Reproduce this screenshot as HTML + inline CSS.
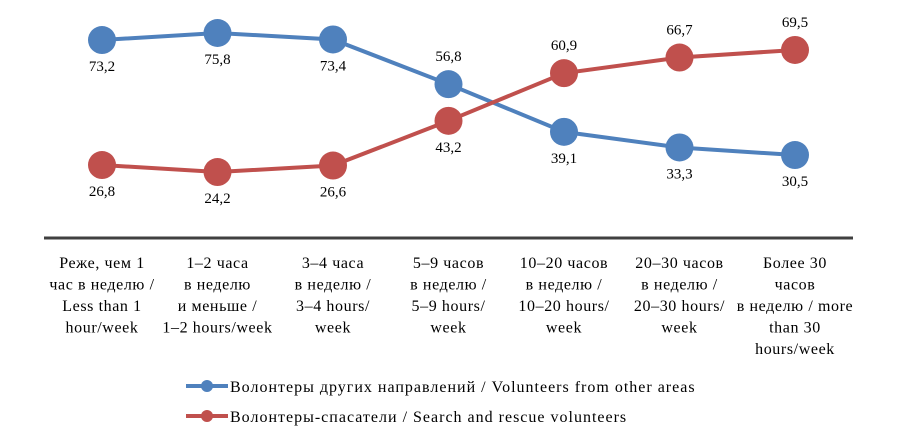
<!DOCTYPE html>
<html><head><meta charset="utf-8"><style>
body{margin:0;background:#fff;}
svg{display:block;}
svg text{font-family:"Liberation Serif","DejaVu Serif",serif;}
</style></head><body>
<svg id="chart" width="922" height="433">
<g id="marks"></g>
</svg>
<script>
const categories=[
["Реже, чем 1","час в неделю /","Less than 1","hour/week"],
["1–2 часа","в неделю","и меньше /","1–2 hours/week"],
["3–4 часа","в неделю /","3–4 hours/","week"],
["5–9 часов","в неделю /","5–9 hours/","week"],
["10–20 часов","в неделю /","10–20 hours/","week"],
["20–30 часов","в неделю /","20–30 hours/","week"],
["Более 30","часов","в неделю / more","than 30","hours/week"]];
const blueValues=[73.2,75.8,73.4,56.8,39.1,33.3,30.5];
const redValues=[26.8,24.2,26.6,43.2,60.9,66.7,69.5];
const blueLabelPos=["below","below","below","above","below","below","below"];
const redLabelPos=["below","below","below","below","above","above","above"];
const seriesNames=["Волонтеры других направлений / Volunteers from other areas","Волонтеры-спасатели / Search and rescue volunteers"];
const NS="http://www.w3.org/2000/svg";
const FONT='"Liberation Serif", "DejaVu Serif", serif';
const g=document.getElementById('marks');
function xs(i){return 102+i*115.5;}
function ys(v){return 33+(75.8-v)*2.694;}
function mk(tag,attrs,parent){const e=document.createElementNS(NS,tag);for(const k in attrs)e.setAttribute(k,attrs[k]);(parent||g).appendChild(e);return e;}
const axis=mk('line',{x1:44,x2:853,y1:238,y2:238,stroke:'#404040','stroke-width':3});


categories.forEach((lines,i)=>{
  lines.forEach((t,j)=>{
    const e=mk('text',{x:xs(i),y:268+j*21.5,'text-anchor':'middle','font-size':16,'letter-spacing':'0.6px','font-family':FONT,fill:'#000'});
    e.textContent=t;
    
    
  });
});
function drawSeries(vals,pos,color,name){
  const pts=vals.map((v,i)=>xs(i)+','+ys(v)).join(' ');
  const pl=mk('polyline',{points:pts,fill:'none',stroke:color,'stroke-width':4});
  
  
  vals.forEach((v,i)=>{
    const c=mk('circle',{cx:xs(i),cy:ys(v),r:14,fill:color});
    
    
    const dy=pos[i]==='above'?-23:31;
    const t=mk('text',{x:xs(i),y:ys(v)+dy,'text-anchor':'middle','font-size':15,'font-family':FONT,fill:'#000'});
    t.textContent=v.toFixed(1).replace('.',',');
    
    
  });
}
drawSeries(blueValues,blueLabelPos,'#4f81bd','blue-series');
drawSeries(redValues,redLabelPos,'#c0504d','red-series');
[['#4f81bd',386],['#c0504d',416]].forEach((d,k)=>{
  const l=mk('line',{x1:186,x2:228,y1:d[1],y2:d[1],stroke:d[0],'stroke-width':4});
  
  
  const c=mk('circle',{cx:207,cy:d[1],r:6,fill:d[0]});
  
  
  const t=mk('text',{x:230,y:d[1]+6,'font-size':16,'letter-spacing':'1px','font-family':FONT,fill:'#000'});
  t.textContent=seriesNames[k];
  
  
});
</script>
</body></html>
